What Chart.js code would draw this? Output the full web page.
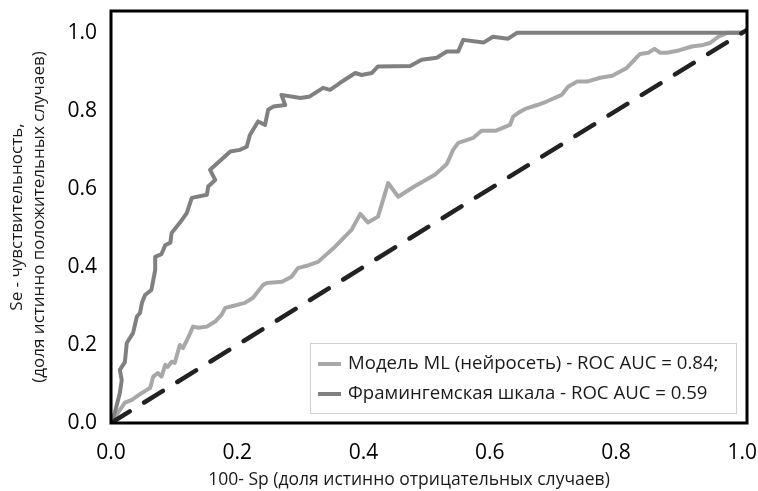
<!DOCTYPE html>
<html>
<head>
  <meta charset="utf-8">
  <title>ROC</title>
  <script src="https://cdn.jsdelivr.net/npm/chart.js"></script>
  <style>
    body { margin: 0; padding: 0; background: #fff; }
    #wrap { width: 758px; height: 491px; }
  </style>
</head>
<body>
<div id="wrap"><canvas id="rocChart"></canvas></div>
<script>
  // подписи серий (как в легенде оригинала)
  const seriesNames = ['Модель ML (нейросеть) - ROC AUC = 0.84;', 'Фрамингемская шкала - ROC AUC = 0.59'];

  // светлая кривая (нижняя)
  const mlX = [0, 0.022, 0.033, 0.049, 0.062, 0.067, 0.074, 0.08, 0.086, 0.09, 0.096, 0.101, 0.109, 0.114, 0.122,
    0.13, 0.138, 0.152, 0.165, 0.175, 0.181, 0.193, 0.212, 0.225, 0.241, 0.247, 0.271, 0.286, 0.296, 0.31,
    0.328, 0.355, 0.381, 0.395, 0.407, 0.423, 0.439, 0.455, 0.479, 0.513, 0.532, 0.542, 0.55, 0.574, 0.587,
    0.609, 0.632, 0.637, 0.648, 0.656, 0.675, 0.69, 0.714, 0.724, 0.738, 0.754, 0.775, 0.794, 0.817, 0.838,
    0.851, 0.861, 0.87, 0.881, 0.897, 0.92, 0.938, 0.949, 0.962, 0.976, 1.0];
  const mlY = [0, 0.052, 0.059, 0.077, 0.09, 0.119, 0.128, 0.119, 0.149, 0.144, 0.157, 0.154, 0.2, 0.192, 0.218,
    0.247, 0.244, 0.247, 0.26, 0.277, 0.295, 0.3, 0.308, 0.321, 0.354, 0.359, 0.362, 0.375, 0.397, 0.403,
    0.413, 0.452, 0.495, 0.536, 0.514, 0.529, 0.615, 0.58, 0.605, 0.636, 0.664, 0.7, 0.718, 0.731, 0.749,
    0.749, 0.764, 0.785, 0.798, 0.805, 0.815, 0.824, 0.841, 0.862, 0.875, 0.875, 0.885, 0.89, 0.91, 0.946,
    0.949, 0.959, 0.949, 0.949, 0.954, 0.965, 0.969, 0.974, 0.99, 1.0, 1.0];

  // тёмная кривая (верхняя)
  const framX = [0, 0.006, 0.014, 0.017, 0.014, 0.022, 0.025, 0.035, 0.041, 0.046, 0.049, 0.054, 0.064, 0.067, 0.07,
    0.07, 0.08, 0.086, 0.094, 0.096, 0.109, 0.12, 0.128, 0.152, 0.154, 0.165, 0.157, 0.189, 0.204, 0.215,
    0.22, 0.233, 0.244, 0.249, 0.257, 0.276, 0.27, 0.3, 0.315, 0.336, 0.347, 0.363, 0.387, 0.397, 0.413,
    0.423, 0.474, 0.492, 0.516, 0.532, 0.55, 0.558, 0.59, 0.605, 0.629, 0.643, 1.0];
  const framY = [0, 0.026, 0.077, 0.11, 0.136, 0.156, 0.205, 0.231, 0.273, 0.282, 0.308, 0.328, 0.341, 0.367, 0.392,
    0.426, 0.433, 0.456, 0.462, 0.487, 0.513, 0.538, 0.577, 0.585, 0.606, 0.623, 0.649, 0.696, 0.7, 0.708,
    0.738, 0.773, 0.764, 0.803, 0.811, 0.815, 0.841, 0.833, 0.837, 0.859, 0.854, 0.872, 0.897, 0.892, 0.897,
    0.914, 0.915, 0.931, 0.936, 0.952, 0.952, 0.982, 0.975, 0.99, 0.985, 1.0, 1.0];

  // диагональ случайного классификатора
  const diagX = [0, 1.0075];
  const diagY = [0, 1.0075];

  const tickValues = [0, 0.2, 0.4, 0.6, 0.8, 1.0];
  const xTitle = '100- Sp (доля истинно отрицательных случаев)';
  const yTitle = ['Se - чувствительность,', '(доля истинно положительных случаев)'];

  const toPoints = (xs, ys) => xs.map((x, i) => ({ x: x, y: ys[i] }));
  const FONT = '"Open Sans", "DejaVu Sans", sans-serif';

  // рамка вокруг области графика
  const framePlugin = {
    id: 'frame',
    afterDatasetsDraw(chart) {
      const a = chart.chartArea, ctx = chart.ctx;
      ctx.save();
      ctx.strokeStyle = '#000';
      ctx.lineWidth = 3;
      ctx.strokeRect(a.left, a.top, a.right - a.left, a.bottom - a.top);
      ctx.restore();
    }
  };

  // подпись оси X в оригинале сдвинута влево от центра оси
  const xTitlePlugin = {
    id: 'xTitle',
    afterDraw(chart) {
      const ctx = chart.ctx;
      ctx.save();
      ctx.font = '17.5px ' + FONT;
      ctx.fillStyle = '#1a1a1a';
      ctx.textAlign = 'center';
      ctx.textBaseline = 'middle';
      ctx.fillText(xTitle, 409, 480);
      ctx.restore();
    }
  };

  // легенда внутри области, справа внизу
  const boxLegend = {
    id: 'boxLegend',
    afterDraw(chart) {
      const ctx = chart.ctx;
      const x0 = 310, y0 = 343, w = 426, h = 70;
      ctx.save();
      ctx.fillStyle = '#fff';
      ctx.fillRect(x0, y0, w, h);
      ctx.strokeStyle = '#d0d0d0';
      ctx.lineWidth = 1;
      ctx.strokeRect(x0 + 0.5, y0 + 0.5, w, h);
      ctx.font = '18.6px ' + FONT;
      ctx.textBaseline = 'middle';
      [0, 1].forEach((i) => {
        const ds = chart.data.datasets[i];
        const cy = y0 + 21 + i * 30;
        ctx.strokeStyle = ds.borderColor;
        ctx.lineWidth = 4;
        ctx.beginPath();
        ctx.moveTo(x0 + 8, cy);
        ctx.lineTo(x0 + 31, cy);
        ctx.stroke();
        ctx.fillStyle = '#1a1a1a';
        ctx.fillText(ds.label, x0 + 38, cy);
      });
      ctx.restore();
    }
  };

  const setTicks = (scale) => { scale.ticks = tickValues.map(v => ({ value: v })); };

  new Chart(document.getElementById('rocChart'), {
    type: 'line',
    data: {
      datasets: [
        {
          label: seriesNames[0],
          data: toPoints(mlX, mlY),
          borderColor: '#a8a8a8',
          borderWidth: 4,
          pointRadius: 0,
          borderJoinStyle: 'round',
          order: 2
        },
        {
          label: seriesNames[1],
          data: toPoints(framX, framY),
          borderColor: '#808080',
          borderWidth: 4,
          pointRadius: 0,
          borderJoinStyle: 'round',
          order: 1
        },
        {
          label: 'diag',
          data: toPoints(diagX, diagY),
          borderColor: '#222',
          borderWidth: 4.5,
          borderDash: [22, 17],
          borderCapStyle: 'round',
          pointRadius: 0,
          order: 0
        }
      ]
    },
    options: {
      responsive: true,
      maintainAspectRatio: false,
      animation: false,
      layout: { padding: { top: 11, right: 11, left: 0, bottom: 0 } },
      plugins: { legend: { display: false }, tooltip: { enabled: false } },
      scales: {
        x: {
          type: 'linear',
          min: 0,
          max: 1.0075,
          afterBuildTicks: setTicks,
          afterFit: (s) => { s.height = 68; s.paddingLeft = 0; s.paddingRight = 0; },
          grid: { display: false, drawTicks: false },
          border: { display: false },
          ticks: {
            color: '#000',
            font: { family: FONT, size: 21 },
            padding: 17,
            maxRotation: 0,
            callback: (v) => v.toFixed(1)
          },
          title: { display: false }
        },
        y: {
          min: 0,
          max: 1.056,
          afterBuildTicks: setTicks,
          afterFit: (s) => { s.width = 111; s.paddingTop = 0; s.paddingBottom = 0; },
          grid: { display: false, drawTicks: false },
          border: { display: false },
          ticks: {
            color: '#000',
            font: { family: FONT, size: 21 },
            padding: 14,
            callback: (v) => v.toFixed(1)
          },
          title: {
            display: true,
            text: yTitle,
            color: '#1a1a1a',
            font: { family: FONT, size: 17, lineHeight: 1.3 },
            padding: { top: 6, bottom: 0 }
          }
        }
      }
    },
    plugins: [framePlugin, xTitlePlugin, boxLegend]
  });
</script>
</body>
</html>
